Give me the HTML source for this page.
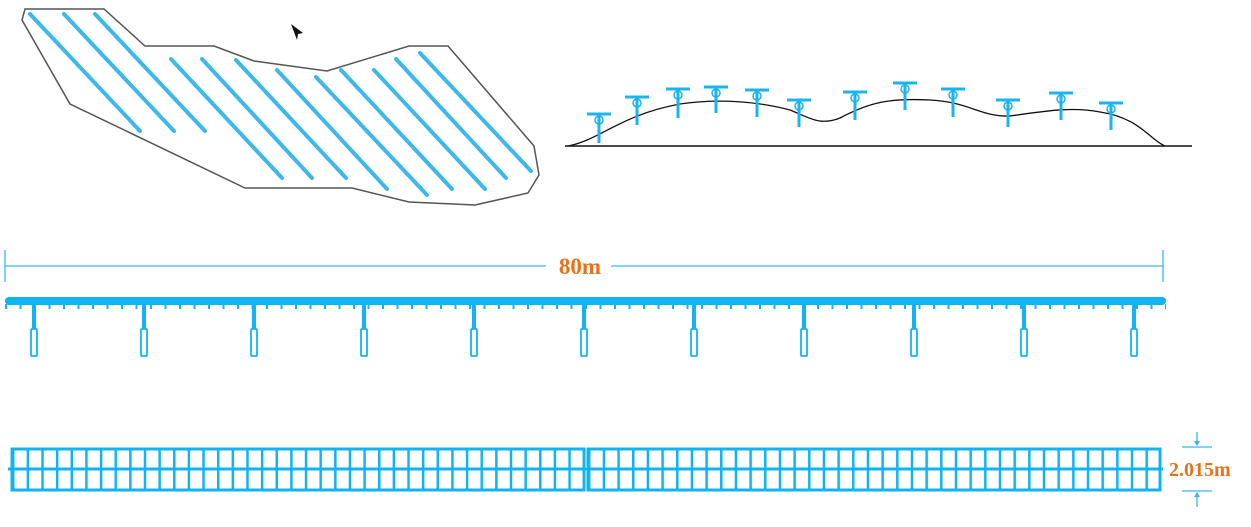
<!DOCTYPE html>
<html><head><meta charset="utf-8"><style>
html,body{margin:0;padding:0;background:#fff;width:1251px;height:527px;overflow:hidden}
</style></head><body>
<svg width="1251" height="527" viewBox="0 0 1251 527" xmlns="http://www.w3.org/2000/svg">
<defs>
<pattern id="cellsL" x="12" y="0" width="14.64" height="527" patternUnits="userSpaceOnUse">
<rect x="0" y="0" width="2.5" height="527" fill="#10b4f2"/></pattern>
<pattern id="cellsR" x="588" y="0" width="14.67" height="527" patternUnits="userSpaceOnUse">
<rect x="0" y="0" width="2.5" height="527" fill="#10b4f2"/></pattern>
<pattern id="ticks" x="5" y="0" width="14.5" height="527" patternUnits="userSpaceOnUse">
<rect x="0" y="0" width="2" height="527" fill="#10b4f2"/></pattern>
</defs>
<polygon points="25,9 104,9 145,46 214,46 254,61 327,71 409,46 448,46 534,146 539,175 528,193 475,205 409,202 352,188 245,188 70,104 22,20" fill="none" stroke="#555" stroke-width="1.5"/>
<g stroke="#3cb8ea" stroke-width="4" stroke-linecap="round">
<line x1="30" y1="14" x2="140" y2="131"/>
<line x1="64" y1="14" x2="174" y2="131"/>
<line x1="95" y1="14" x2="205" y2="131"/>
<line x1="171" y1="59" x2="282" y2="178"/>
<line x1="202" y1="59" x2="312" y2="178"/>
<line x1="236" y1="60" x2="346" y2="178"/>
<line x1="277" y1="70" x2="387" y2="189"/>
<line x1="316" y1="77" x2="427" y2="195"/>
<line x1="341" y1="70" x2="452" y2="189"/>
<line x1="374" y1="70" x2="485" y2="189"/>
<line x1="396" y1="59" x2="506" y2="178"/>
<line x1="420" y1="53" x2="531" y2="171"/>
</g>
<polygon points="291,24 303,33 298,34 297,40" fill="#111"/>
<line x1="565" y1="146" x2="1192" y2="146" stroke="#111" stroke-width="1.5"/>
<path d="M568,146 C600,140 620,115 680,104 C720,98 760,102 790,110 C810,118 820,126 840,118 C870,102 890,98 930,100 C970,102 980,117 1010,116 C1040,112 1070,106 1100,112 C1140,118 1150,140 1165,146" fill="none" stroke="#111" stroke-width="1.3"/>
<g stroke="#1ab4f0" stroke-width="3" fill="none">
<path d="M587,114h24M599,114v29"/><path d="M625,97h24M637,97v28"/><path d="M666,89h24M678,89v29"/><path d="M704,87h24M716,87v26"/><path d="M745,90h24M757,90v27"/><path d="M787,100h24M799,100v27"/><path d="M843,92h24M855,92v28"/><path d="M893,83h24M905,83v27"/><path d="M941,89h24M953,89v28"/><path d="M996,100h24M1008,100v27"/><path d="M1049,93h24M1061,93v27"/><path d="M1099,103h24M1111,103v27"/>
</g>
<g fill="none" stroke="#1ab4f0" stroke-width="1.5">
<circle cx="599" cy="120" r="4"/><circle cx="637" cy="103" r="4"/><circle cx="678" cy="95" r="4"/><circle cx="716" cy="93" r="4"/><circle cx="757" cy="96" r="4"/><circle cx="799" cy="106" r="4"/><circle cx="855" cy="98" r="4"/><circle cx="905" cy="89" r="4"/><circle cx="953" cy="95" r="4"/><circle cx="1008" cy="106" r="4"/><circle cx="1061" cy="99" r="4"/><circle cx="1111" cy="109" r="4"/>
</g>
<g stroke="#39b7ee" stroke-width="1.3">
<line x1="5" y1="266" x2="546" y2="266"/><line x1="611" y1="266" x2="1163" y2="266"/>
<line x1="5" y1="250" x2="5" y2="282"/><line x1="1163" y1="250" x2="1163" y2="282"/>
</g>
<text x="580" y="274" text-anchor="middle" font-family="Liberation Serif, serif" font-weight="bold" font-size="23" fill="#e8721c">80m</text>
<rect x="5" y="297" width="1161" height="8" rx="4" fill="#10b4f2"/>
<rect x="5" y="304" width="1161" height="5" fill="url(#ticks)"/>
<g fill="#10b4f2">
<rect x="32" y="303" width="4" height="26"/><rect x="142" y="303" width="4" height="26"/><rect x="252" y="303" width="4" height="26"/><rect x="362" y="303" width="4" height="26"/><rect x="472" y="303" width="4" height="26"/><rect x="582" y="303" width="4" height="26"/><rect x="692" y="303" width="4" height="26"/><rect x="802" y="303" width="4" height="26"/><rect x="912" y="303" width="4" height="26"/><rect x="1022" y="303" width="4" height="26"/><rect x="1132" y="303" width="4" height="26"/>
</g>
<g fill="#fff" stroke="#10b4f2" stroke-width="1.8">
<rect x="31" y="329" width="6" height="27" rx="1"/><rect x="141" y="329" width="6" height="27" rx="1"/><rect x="251" y="329" width="6" height="27" rx="1"/><rect x="361" y="329" width="6" height="27" rx="1"/><rect x="471" y="329" width="6" height="27" rx="1"/><rect x="581" y="329" width="6" height="27" rx="1"/><rect x="691" y="329" width="6" height="27" rx="1"/><rect x="801" y="329" width="6" height="27" rx="1"/><rect x="911" y="329" width="6" height="27" rx="1"/><rect x="1021" y="329" width="6" height="27" rx="1"/><rect x="1131" y="329" width="6" height="27" rx="1"/>
</g>
<rect x="12" y="449" width="573" height="41" fill="url(#cellsL)"/>
<rect x="588" y="449" width="573" height="41" fill="url(#cellsR)"/>
<g fill="none" stroke="#10b4f2" stroke-width="3">
<rect x="12" y="449" width="572" height="41"/>
<rect x="588" y="449" width="572" height="41"/>
</g>
<line x1="8" y1="469" x2="1163" y2="469" stroke="#10b4f2" stroke-width="3"/>
<g stroke="#39b7ee" stroke-width="1.3">
<line x1="1182" y1="447" x2="1212" y2="447"/><line x1="1182" y1="491" x2="1212" y2="491"/>
<line x1="1197" y1="432" x2="1197" y2="445"/><line x1="1197" y1="493" x2="1197" y2="507"/>
</g>
<polygon points="1194,441 1200,441 1197,446" fill="#39b7ee"/>
<polygon points="1194,497 1200,497 1197,492" fill="#39b7ee"/>
<text x="1169" y="476" font-family="Liberation Serif, serif" font-weight="bold" font-size="20" fill="#e8721c">2.015m</text>
</svg>
</body></html>
